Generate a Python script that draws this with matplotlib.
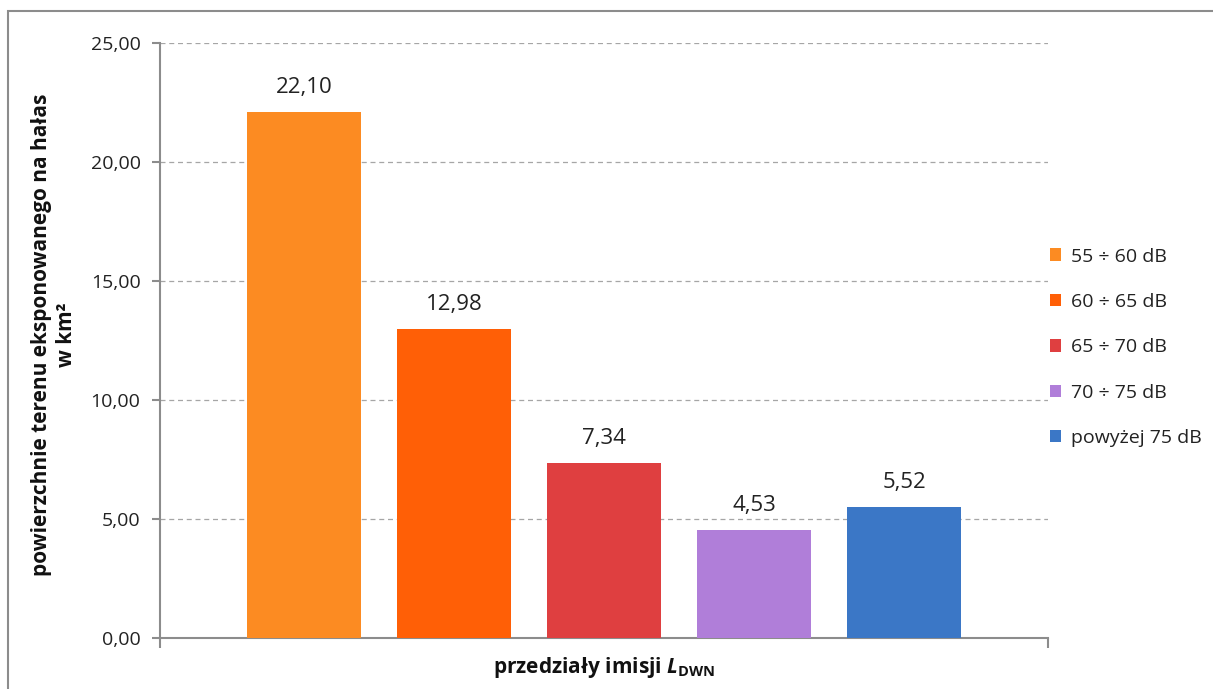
import matplotlib
matplotlib.use("Agg")
import matplotlib.pyplot as plt
from matplotlib.patches import Rectangle

categories = ["55 ÷ 60 dB", "60 ÷ 65 dB", "65 ÷ 70 dB", "70 ÷ 75 dB", "powyżej 75 dB"]
values = [22.10, 12.98, 7.34, 4.53, 5.52]
labels = ["22,10", "12,98", "7,34", "4,53", "5,52"]
colors = ["#FC8B22", "#FF5F06", "#DF3F40", "#B07ED9", "#3B77C6"]
yticks = [0, 5, 10, 15, 20, 25]
ytick_labels = ["0,00", "5,00", "10,00", "15,00", "20,00", "25,00"]

FONT = 'Open Sans'
plt.rcParams['font.family'] = [FONT, 'DejaVu Sans']
plt.rcParams['mathtext.fontset'] = 'custom'
plt.rcParams['mathtext.rm'] = FONT + ':bold'
plt.rcParams['mathtext.bf'] = FONT + ':bold'
plt.rcParams['mathtext.it'] = FONT + ':bold:italic'
plt.rcParams['mathtext.bfit'] = FONT + ':bold:italic'

W, H = 1213, 689
fig = plt.figure(figsize=(W / 100, H / 100), dpi=100)
ax = fig.add_axes([160 / W, 1 - 638 / H, (1048 - 160) / W, (638 - 43) / H])

x = list(range(len(values)))
bars = ax.bar(x, values, width=0.76, color=colors, label=categories, zorder=3)
for xi, v, lab in zip(x, values, labels):
    ax.annotate(lab, (xi, v), xytext=(0, 10), textcoords="offset points",
                ha="center", va="bottom", fontsize=16, color="#222222")

ax.set_xlim(-0.96, 4.96)
ax.set_ylim(0, 25)
ax.set_yticks(yticks)
ax.set_yticklabels(ytick_labels, fontsize=14, color="#222222")
ax.set_xticks([-0.96, 4.96])
ax.set_xticklabels(["", ""])
ax.tick_params(axis="x", direction="out", length=7, color="#8c8c8c", width=1.5)
ax.tick_params(axis="y", direction="out", length=6, color="#8c8c8c", width=1.5, pad=8)
ax.grid(axis="y", linestyle=(0, (4, 3)), color="#a6a6a6", linewidth=0.9, zorder=0)
for s in ["top", "right"]:
    ax.spines[s].set_visible(False)
for s in ["left", "bottom"]:
    ax.spines[s].set_color("#8c8c8c")
    ax.spines[s].set_linewidth(1.5)

fig.text(54 / W, 1 - 335 / H, "powierzchnie terenu eksponowanego na hałas\nw km²",
         rotation=90, ha="center", va="center", fontsize=15, fontweight="bold",
         color="#111111", linespacing=1.2, multialignment="center")
fig.text(604 / W, 1 - 668 / H, r"przedziały imisji $\mathbfit{L}_{\mathbf{DWN}}$",
         ha="center", va="center", fontsize=15, fontweight="bold", color="#111111")

leg = fig.legend(handles=bars, labels=categories, loc="upper left",
                 bbox_to_anchor=(1032 / W, 1 - 230 / H), frameon=False,
                 fontsize=14, handlelength=0.6, handleheight=0.6,
                 handletextpad=0.5, labelspacing=1.41, labelcolor="#222222")

fig.patches.append(Rectangle((8 / W, -0.1), 1.2, 1 - 11 / H + 0.1,
                             transform=fig.transFigure, fill=False,
                             edgecolor="#8c8c8c", linewidth=1.5))

fig.savefig("out.png", dpi=100, facecolor="white")
